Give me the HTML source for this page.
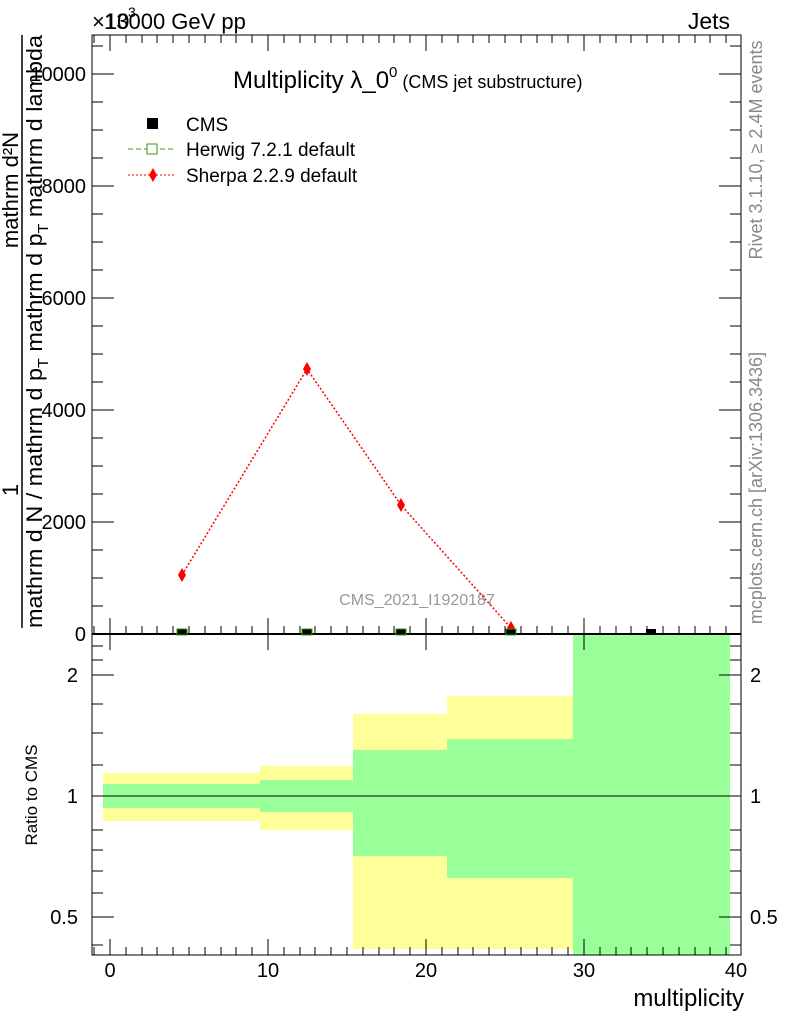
<!DOCTYPE html>
<html><head><style>body{margin:0;background:#fff}svg{display:block}text{font-family:"Liberation Sans",sans-serif}</style></head><body>
<svg width="786" height="1024" viewBox="0 0 786 1024">
<g>
<rect x="103" y="773" width="157" height="48" fill="#ffff99"/>
<rect x="260" y="766" width="93" height="64" fill="#ffff99"/>
<rect x="353" y="714" width="94" height="235" fill="#ffff99"/>
<rect x="447" y="696" width="126" height="253" fill="#ffff99"/>
<rect x="103" y="784" width="157" height="24" fill="#99ff99"/>
<rect x="260" y="780" width="93" height="32" fill="#99ff99"/>
<rect x="353" y="750" width="94" height="106" fill="#99ff99"/>
<rect x="447" y="739" width="126" height="139" fill="#99ff99"/>
<rect x="573" y="634" width="157" height="321" fill="#99ff99"/>
</g>
<line x1="92" y1="796" x2="741" y2="796" stroke="#000" stroke-width="1"/>
<rect x="92" y="35" width="649" height="599" fill="none" stroke="#000" stroke-width="1"/>
<rect x="92" y="634" width="649" height="321" fill="none" stroke="#000" stroke-width="1"/>
<line x1="92" y1="634" x2="741" y2="634" stroke="#000" stroke-width="2"/>
<g stroke="#000" stroke-width="1">
<path d="M110,634v-16M268,634v-16M426,634v-16M584,634v-16M741,634v-16M110,634v16M268,634v16M426,634v16M584,634v16"/>
<path d="M110,955v-16M268,955v-16M426,955v-16M584,955v-16M110,35v16M268,35v16M426,35v16M584,35v16"/>
<path d="M94,634v-8M126,634v-8M142,634v-8M157,634v-8M173,634v-8M189,634v-8M205,634v-8M221,634v-8M236,634v-8M252,634v-8M284,634v-8M300,634v-8M315,634v-8M331,634v-8M347,634v-8M363,634v-8M379,634v-8M394,634v-8M410,634v-8M442,634v-8M458,634v-8M473,634v-8M489,634v-8M505,634v-8M521,634v-8M537,634v-8M552,634v-8M568,634v-8M600,634v-8M616,634v-8M631,634v-8M647,634v-8M663,634v-8M679,634v-8M695,634v-8M710,634v-8M726,634v-8"/>
<path d="M94,955v-8M126,955v-8M142,955v-8M157,955v-8M173,955v-8M189,955v-8M205,955v-8M221,955v-8M236,955v-8M252,955v-8M284,955v-8M300,955v-8M315,955v-8M331,955v-8M347,955v-8M363,955v-8M379,955v-8M394,955v-8M410,955v-8M442,955v-8M458,955v-8M473,955v-8M489,955v-8M505,955v-8M521,955v-8M537,955v-8M552,955v-8M568,955v-8M600,955v-8M616,955v-8M631,955v-8M647,955v-8M663,955v-8M679,955v-8M695,955v-8M710,955v-8M726,955v-8"/>
<path d="M94,35v8M126,35v8M142,35v8M157,35v8M173,35v8M189,35v8M205,35v8M221,35v8M236,35v8M252,35v8M284,35v8M300,35v8M315,35v8M331,35v8M347,35v8M363,35v8M379,35v8M394,35v8M410,35v8M442,35v8M458,35v8M473,35v8M489,35v8M505,35v8M521,35v8M537,35v8M552,35v8M568,35v8M600,35v8M616,35v8M631,35v8M647,35v8M663,35v8M679,35v8M695,35v8M710,35v8M726,35v8"/>
<path d="M92,634h22M92,522h22M92,410h22M92,298h22M92,186h22M92,74h22M741,634h-22M741,522h-22M741,410h-22M741,298h-22M741,186h-22M741,74h-22"/>
<path d="M92,606h11M92,578h11M92,550h11M92,494h11M92,466h11M92,438h11M92,382h11M92,354h11M92,326h11M92,270h11M92,242h11M92,214h11M92,158h11M92,130h11M92,102h11M92,46h11"/>
<path d="M741,606h-11M741,578h-11M741,550h-11M741,494h-11M741,466h-11M741,438h-11M741,382h-11M741,354h-11M741,326h-11M741,270h-11M741,242h-11M741,214h-11M741,158h-11M741,130h-11M741,102h-11M741,46h-11"/>
<path d="M92,675h22M92,796h22M92,917h22M741,675h-22M741,796h-22M741,917h-22"/>
<path d="M92,646h11M92,660h11M92,704h11M92,733h11M92,765h11M92,830h11M92,850h11M92,871h11M92,893h11M92,945h11"/>
<path d="M741,646h-11M741,660h-11M741,704h-11M741,733h-11M741,765h-11M741,830h-11M741,850h-11M741,871h-11M741,893h-11M741,945h-11"/>
</g>
<g font-size="20" text-anchor="end">
<text x="86" y="641">0</text><text x="86" y="529">2000</text><text x="86" y="417">4000</text><text x="86" y="305">6000</text><text x="86" y="193">8000</text><text x="86" y="81">10000</text>
<text x="78" y="682">2</text><text x="78" y="803">1</text><text x="78" y="924">0.5</text>
</g>
<g font-size="20" text-anchor="start">
<text x="750" y="682">2</text><text x="750" y="803">1</text><text x="750" y="924">0.5</text>
</g>
<g font-size="20" text-anchor="middle">
<text x="110" y="977">0</text><text x="268" y="977">10</text><text x="426" y="977">20</text><text x="584" y="977">30</text><text x="736" y="977">40</text>
</g>
<text x="744" y="1006" font-size="24" text-anchor="end">multiplicity</text>
<text x="92" y="29" font-size="22">×10</text><text x="128" y="17" font-size="14">3</text>
<text x="104" y="29" font-size="22">13000 GeV pp</text>
<text x="730" y="29" font-size="23" text-anchor="end">Jets</text>
<text x="233" y="88" font-size="24">Multiplicity λ_0<tspan font-size="15" dy="-11">0</tspan><tspan font-size="18" dy="11"> (CMS jet substructure)</tspan></text>
<text x="186" y="131" font-size="19">CMS</text>
<text x="186" y="156" font-size="19">Herwig 7.2.1 default</text>
<text x="186" y="182" font-size="19">Sherpa 2.2.9 default</text>
<rect x="147" y="118" width="11" height="11" fill="#000"/>
<line x1="128" y1="149" x2="175" y2="149" stroke="#339900" stroke-dasharray="5,3"/>
<rect x="147" y="144" width="10" height="10" fill="#fff" stroke="#339900"/>
<line x1="128" y1="175" x2="175" y2="175" stroke="#f00" stroke-dasharray="2,2"/>
<path d="M153,168l4,7l-4,7l-4,-7z" fill="#f00"/>
<text x="417" y="605" font-size="16" fill="#999" text-anchor="middle">CMS_2021_I1920187</text>
<g transform="translate(762,150) rotate(-90)"><text x="0" y="0" font-size="18" fill="#888" text-anchor="middle">Rivet 3.1.10, ≥ 2.4M events</text></g>
<g transform="translate(762,488) rotate(-90)"><text x="0" y="0" font-size="18" fill="#888" text-anchor="middle">mcplots.cern.ch [arXiv:1306.3436]</text></g>
<g transform="translate(37,795) rotate(-90)"><text x="0" y="0" font-size="17" text-anchor="middle">Ratio to CMS</text></g>
<line x1="22" y1="35" x2="22" y2="628" stroke="#000" stroke-width="1.5"/>
<g transform="translate(18,490) rotate(-90)"><text x="0" y="0" font-size="22" text-anchor="middle">1</text></g>
<g transform="translate(18,190) rotate(-90)"><text x="0" y="0" font-size="22" text-anchor="middle">mathrm d²N</text></g>
<g transform="translate(42,628) rotate(-90)"><text x="0" y="0" font-size="22" textLength="593" lengthAdjust="spacingAndGlyphs">mathrm d N / mathrm d p<tspan font-size="15" dy="6">T</tspan><tspan dy="-6"> mathrm d p</tspan><tspan font-size="15" dy="6">T</tspan><tspan dy="-6"> mathrm d lambda</tspan></text></g>
<polyline points="182,575 307,369 401,505 511,628" fill="none" stroke="#f00" stroke-width="1.5" stroke-dasharray="2,2"/>
<g fill="#f00"><path d="M182,568l4,7l-4,7l-4,-7z"/><path d="M307,362l4,7l-4,7l-4,-7z"/><path d="M401,498l4,7l-4,7l-4,-7z"/><path d="M511,621l4,7l-4,7l-4,-7z"/></g>
<g fill="#000" stroke="#339900"><rect x="177" y="629" width="10" height="6"/><rect x="302" y="629" width="10" height="6"/><rect x="396" y="629" width="10" height="6"/><rect x="506" y="629" width="10" height="6"/></g>
<rect x="646" y="629" width="10" height="6" fill="#000"/>
</svg>
</body></html>
